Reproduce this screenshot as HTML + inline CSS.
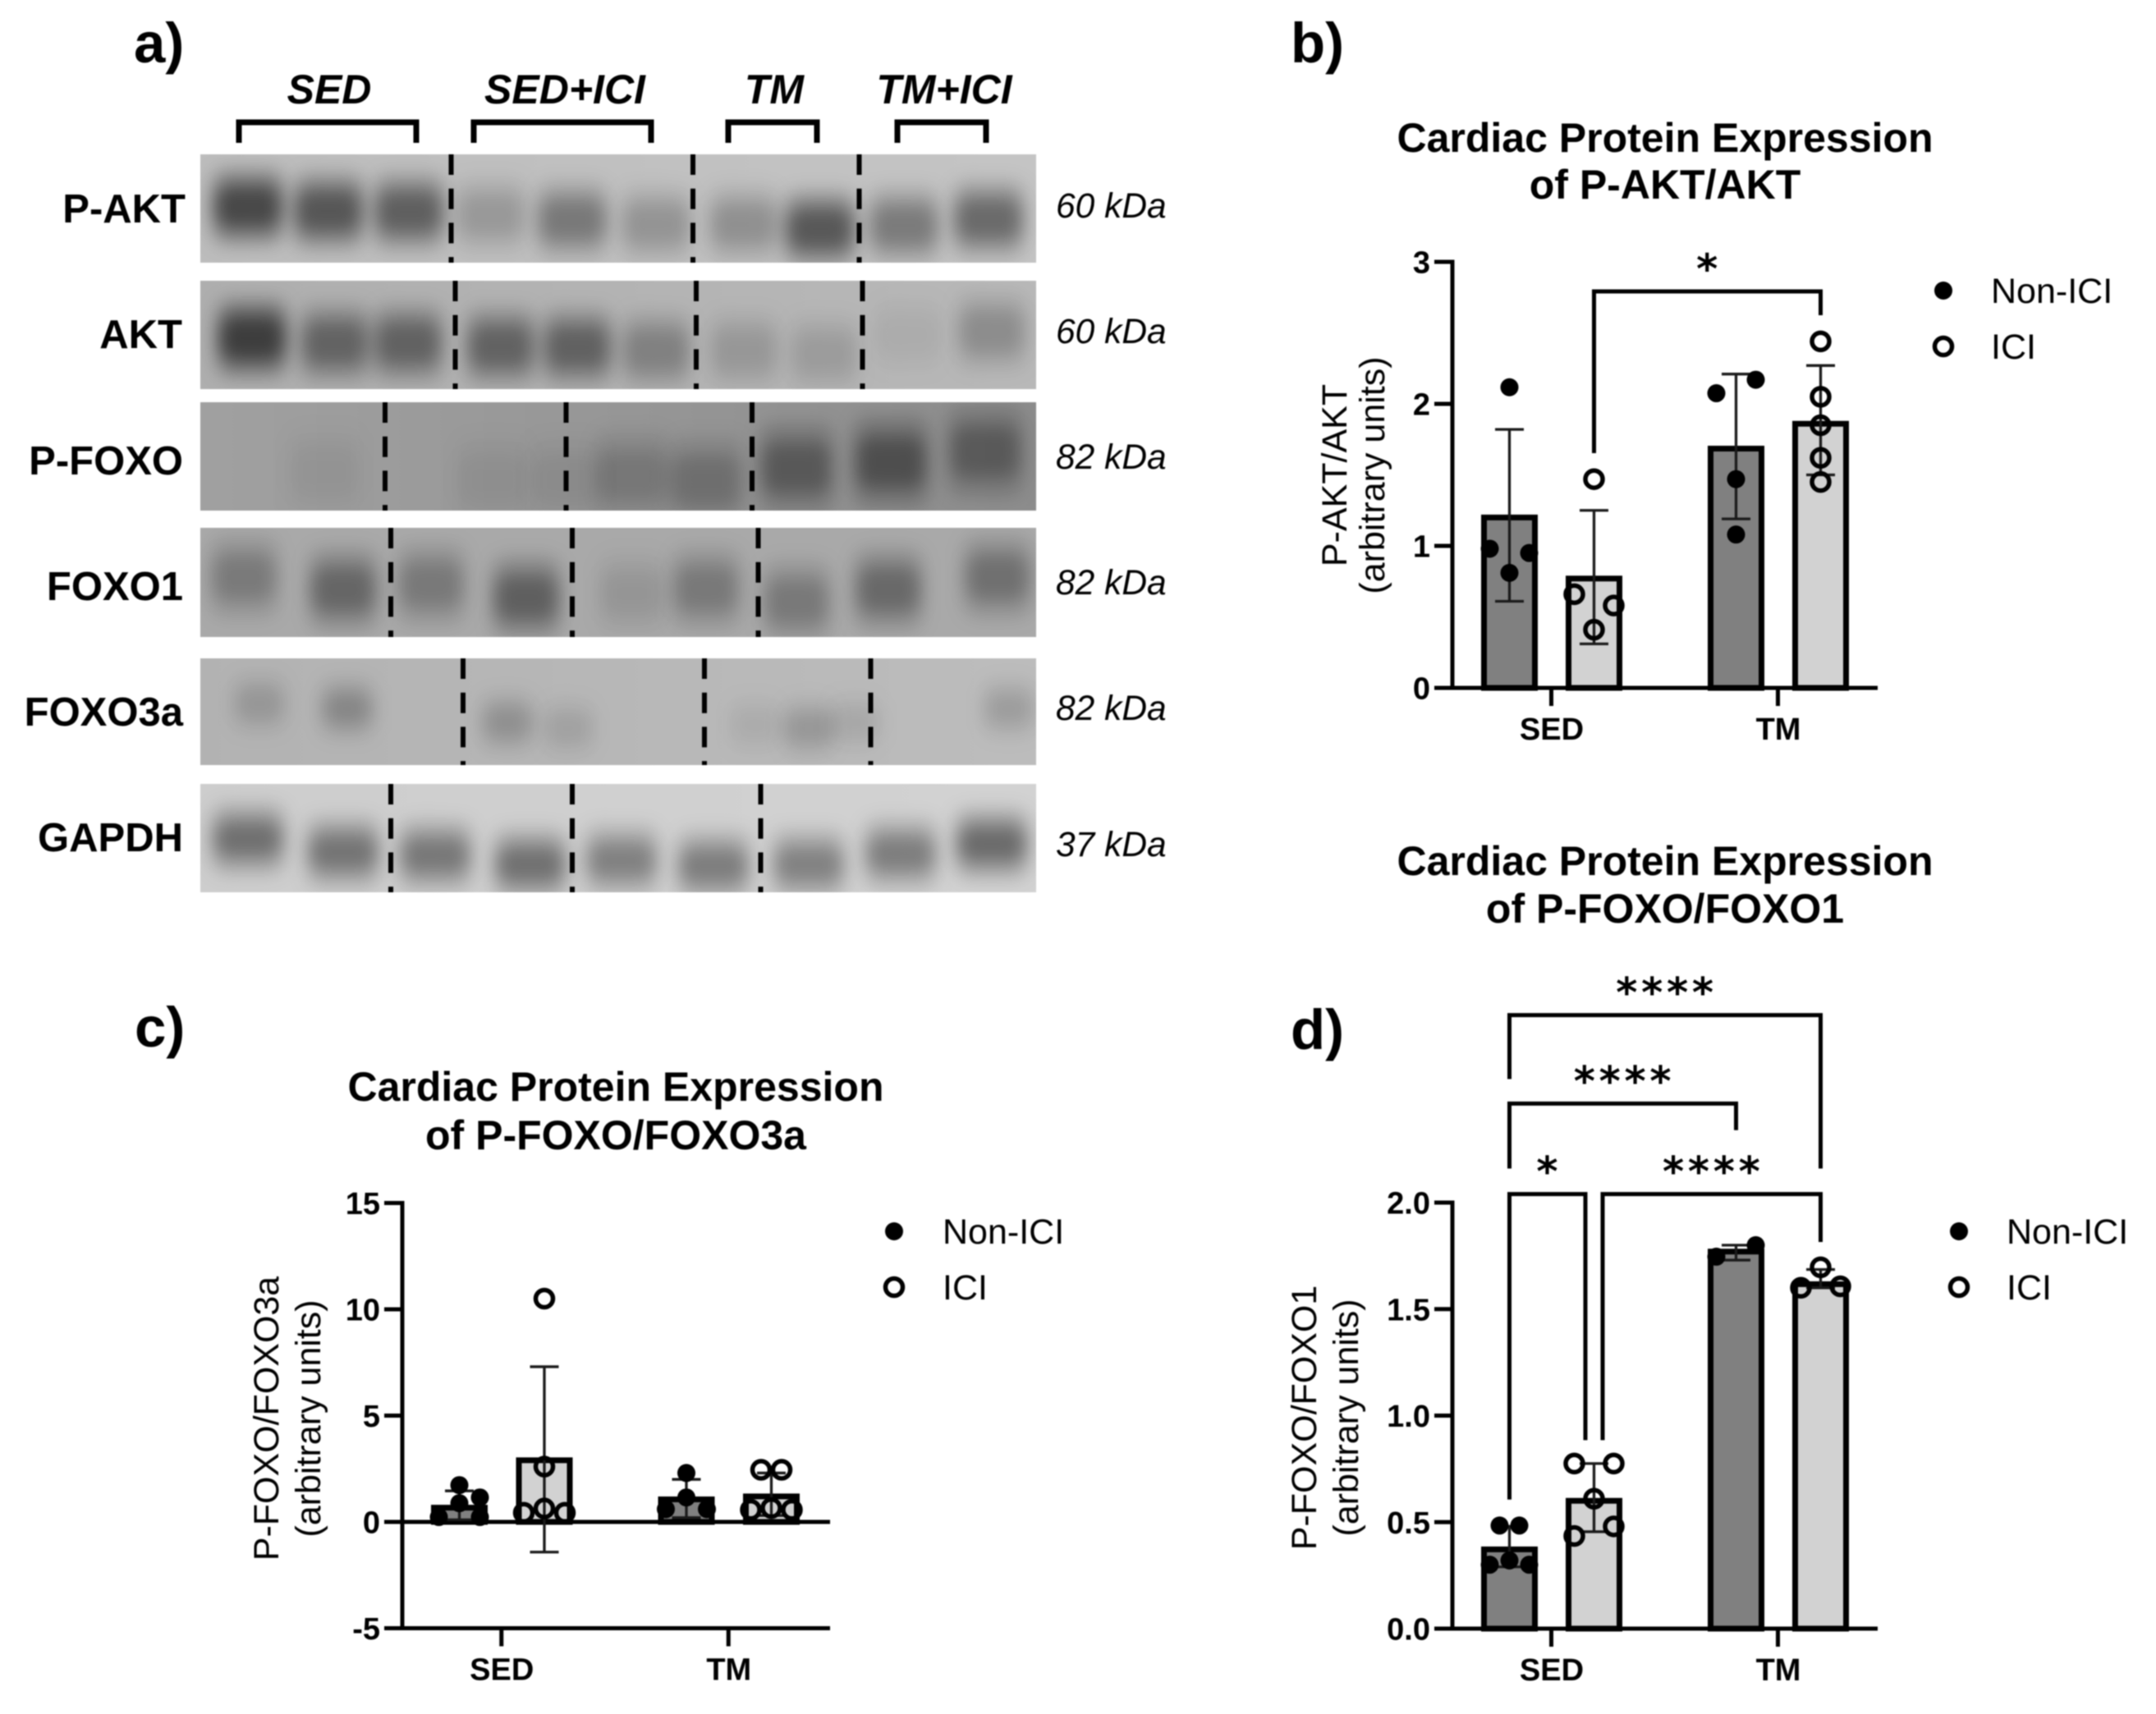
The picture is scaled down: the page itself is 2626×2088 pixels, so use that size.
<!DOCTYPE html>
<html lang="en">
<head>
<meta charset="utf-8">
<title>Cardiac protein expression figure</title>
<style>
html,body{margin:0;padding:0;background:#fff;width:2626px;height:2088px;overflow:hidden}
svg{display:block;filter:blur(.7px)}
text{font-family:"Liberation Sans",Arial,sans-serif;fill:#000}
.panel{font-size:69px;font-weight:700}
.title{font-size:50px;font-weight:700;text-anchor:middle}
.ylab{font-size:43px;text-anchor:middle}
.legend{font-size:43px}
.rowlab{font-size:49px;font-weight:700;text-anchor:end}
.kda{font-size:42.5px;font-style:italic}
.group{font-size:50px;font-weight:700;font-style:italic;text-anchor:middle}
</style>
</head>
<body>
<svg id="fig" xmlns="http://www.w3.org/2000/svg" width="2626" height="2088" viewBox="0 0 2626 2088">
  <rect width="2626" height="2088" fill="#fff"/>
  <defs>
    <filter id="bandBlur" x="-60%" y="-60%" width="220%" height="220%"><feGaussianBlur stdDeviation="11"/></filter>
  </defs>

  <text class="panel" x="163" y="76">a)</text>
  <text class="panel" x="1572" y="76">b)</text>
  <text class="panel" x="164" y="1275">c)</text>
  <text class="panel" x="1572" y="1278">d)</text>

  <g id="blots"></g>
  <text class="group" x="401" y="126">SED</text>
  <text class="group" x="688" y="126">SED+ICI</text>
  <text class="group" x="943" y="126">TM</text>
  <text class="group" x="1150" y="126">TM+ICI</text>
  <path d="M291 174V149H507V174" fill="none" stroke="#000" stroke-width="7"/>
  <path d="M577 174V149H793V174" fill="none" stroke="#000" stroke-width="7"/>
  <path d="M887 174V149H995V174" fill="none" stroke="#000" stroke-width="7"/>
  <path d="M1093 174V149H1201V174" fill="none" stroke="#000" stroke-width="7"/>

  <text class="rowlab" x="226" y="271">P-AKT</text>
  <text class="rowlab" x="222" y="424">AKT</text>
  <text class="rowlab" x="223" y="578">P-FOXO</text>
  <text class="rowlab" x="223" y="731">FOXO1</text>
  <text class="rowlab" x="223" y="884">FOXO3a</text>
  <text class="rowlab" x="223" y="1037">GAPDH</text>
  <text class="kda" x="1286" y="265">60 kDa</text>
  <text class="kda" x="1286" y="418">60 kDa</text>
  <text class="kda" x="1286" y="571">82 kDa</text>
  <text class="kda" x="1286" y="724">82 kDa</text>
  <text class="kda" x="1286" y="877">82 kDa</text>
  <text class="kda" x="1286" y="1043">37 kDa</text>

  <text class="title" x="2028" y="185">Cardiac Protein Expression</text>
  <text class="title" x="2028" y="242">of P-AKT/AKT</text>
  <text class="ylab" transform="translate(1640 579) rotate(-90)">P-AKT/AKT</text>
  <text class="ylab" transform="translate(1686 579) rotate(-90)">(arbitrary units)</text>

  <text class="title" x="750" y="1341">Cardiac Protein Expression</text>
  <text class="title" x="750" y="1400">of P-FOXO/FOXO3a</text>
  <text class="ylab" transform="translate(339 1728) rotate(-90)">P-FOXO/FOXO3a</text>
  <text class="ylab" transform="translate(390 1728) rotate(-90)">(arbitrary units)</text>

  <text class="title" x="2028" y="1066">Cardiac Protein Expression</text>
  <text class="title" x="2028" y="1124">of P-FOXO/FOXO1</text>
  <text class="ylab" transform="translate(1603 1727) rotate(-90)">P-FOXO/FOXO1</text>
  <text class="ylab" transform="translate(1654 1727) rotate(-90)">(arbitrary units)</text>

  <g id="chart-b"></g>
  <g id="chart-c"></g>
  <g id="chart-d"></g>
</svg>

<script>
// ---------- chart data ----------
const categories = ['SED', 'TM'];
const legendNames = ['Non-ICI', 'ICI'];

const ticksB = [0, 1, 2, 3];
const tickLabelsB = ['0', '1', '2', '3'];
const meansB = [1.2, 0.77, 1.685, 1.86];
const errLowB = [0.61, 0.31, 1.19, 1.5];
const errHighB = [1.82, 1.25, 2.21, 2.27];
const pointsB = [[2.117, 0.98, 0.95, 0.81], [1.47, 0.66, 0.58, 0.41], [2.075, 2.17, 1.47, 1.08], [2.44, 2.05, 1.85, 1.62, 1.45]];
const swarmSlotsB = [[0, -1, 1, 0], [0, -1, 1, 0], [-1, 1, 0, 0], [0, 0, 0, 0, 0]];
const bracketLabelsB = ['*'];
const bracketSpansB = [[1, 3]];
const bracketTopsB = [2.792];
const bracketStartsB = [1.653];
const bracketEndsB = [2.624];

const ticksC = [-5, 0, 5, 10, 15];
const tickLabelsC = ['-5', '0', '5', '10', '15'];
const meansC = [0.67, 2.9, 1.06, 1.2];
const errLowC = [0.1, -1.42, 0.2, 0.3];
const errHighC = [1.46, 7.3, 2.0, 2.3];
const pointsC = [[1.73, 0.88, 1.15, 0.23, 0.23], [10.5, 2.6, 0.63, 0.43, 0.43], [2.3, 1.15, 0.6, 0.6], [2.45, 2.45, 0.65, 0.57, 0.57]];
const swarmSlotsC = [[0, 0, 1, -1, 1], [0, 0, 0, -1, 1], [0, 0, -1, 1], [-0.5, 0.5, 0, -1, 1]];

const ticksD = [0, 0.5, 1, 1.5, 2];
const tickLabelsD = ['0.0', '0.5', '1.0', '1.5', '2.0'];
const meansD = [0.372, 0.6, 1.77, 1.617];
const errLowD = [0.29, 0.455, 1.73, 1.6];
const errHighD = [0.48, 0.775, 1.8, 1.686];
const pointsD = [[0.484, 0.484, 0.3, 0.32, 0.3], [0.775, 0.775, 0.61, 0.435, 0.48], [1.746, 1.8], [1.696, 1.6, 1.607]];
const swarmSlotsD = [[-0.5, 0.5, -1, 0, 1], [-1, 1, 0, -1, 1], [-1, 1], [0, -1, 1]];
const bracketLabelsD = ['****', '****', '*', '****'];
const bracketSpansD = [[0, 3], [0, 2], [0, 1], [1, 3]];
const bracketTopsD = [2.88, 2.465, 2.04, 2.04];
const bracketStartsD = [2.58, 2.16, 0.606, 0.885];
const bracketEndsD = [2.16, 2.34, 0.885, 1.815];
const bracketShiftFromD = [0, 0, 0, 10.5];
const bracketShiftToD = [0, 0, -10.5, 0];

const NS = 'http://www.w3.org/2000/svg';
function make(parent, tag, attrs, content) {
  const el = document.createElementNS(NS, tag);
  for (const k in attrs) el.setAttribute(k, attrs[k]);
  if (content !== undefined) el.textContent = content;
  parent.appendChild(el);
  return el;
}

function drawChart(root, g, d) {
  const yScale = v => g.yZero - v * g.yPerUnit;
  const xBar = i => g.groupX[i >> 1] + (i % 2 ? g.barOffset : -g.barOffset);
  const yAxisTop = yScale(d.ticks[d.ticks.length - 1]);
  const yAxisBottom = yScale(d.ticks[0]);

  // bars
  d.means.forEach((m, i) => {
    const bar = make(root, 'rect', {x: xBar(i) - 31, y: Math.min(yScale(m), yScale(0)), width: 62, height: Math.abs(yScale(0) - yScale(m)), fill: i % 2 ? '#d2d2d2' : '#808080', stroke: '#000', 'stroke-width': 7});
    
    
  });

  // axes
  const yAxis = make(root, 'line', {x1: g.axisX, x2: g.axisX, y1: yAxisTop - 2.5, y2: yAxisBottom + 2.5, stroke: '#000', 'stroke-width': 5});
  
  
  const xAxis = make(root, 'line', {x1: g.axisX - 22, x2: g.axisEnd, y1: yAxisBottom, y2: yAxisBottom, stroke: '#000', 'stroke-width': 5});
  
  
  if (d.ticks[0] < 0) {
    const zero = make(root, 'line', {x1: g.axisX - 22, x2: g.axisEnd, y1: yScale(0), y2: yScale(0), stroke: '#000', 'stroke-width': 5});
    
    
  }
  d.ticks.forEach((t, i) => {
    const tick = make(root, 'line', {x1: g.axisX - 22, x2: g.axisX, y1: yScale(t), y2: yScale(t), stroke: '#000', 'stroke-width': 5});
    
    
    const lab = make(root, 'text', {x: g.axisX - 27, y: yScale(t) + 13.5, 'text-anchor': 'end', 'font-size': 38, 'font-weight': 700}, d.tickLabels[i]);
    
    
  });
  categories.forEach((c, i) => {
    const tick = make(root, 'line', {x1: g.groupX[i] - 0.5, x2: g.groupX[i] - 0.5, y1: yAxisBottom, y2: yAxisBottom + 22, stroke: '#000', 'stroke-width': 5});
    
    
    const lab = make(root, 'text', {x: g.groupX[i], y: yAxisBottom + 63, 'text-anchor': 'middle', 'font-size': 38, 'font-weight': 700}, c);
    
    
  });

  // error bars
  d.means.forEach((m, i) => {
    const x = xBar(i);
    const err = make(root, 'path', {d: 'M' + (x - 17.5) + ' ' + yScale(d.errHigh[i]) + 'H' + (x + 17.5) + 'M' + x + ' ' + yScale(d.errHigh[i]) + 'V' + yScale(d.errLow[i]) + 'M' + (x - 17.5) + ' ' + yScale(d.errLow[i]) + 'H' + (x + 17.5), fill: 'none', stroke: '#1a1a1a', 'stroke-width': 3.3});
    
    
  });

  // points
  d.points.forEach((series, i) => {
    series.forEach((v, j) => {
      const hollow = i % 2 === 1;
      const pt = make(root, 'circle', {cx: xBar(i) + d.slots[i][j] * g.slotWidth, cy: yScale(v), r: hollow ? 10.5 : 11, fill: hollow ? 'none' : '#000', stroke: hollow ? '#000' : 'none', 'stroke-width': hollow ? 5.5 : 0});
      
      
    });
  });

  // significance brackets
  (d.bracketLabels || []).forEach((label, i) => {
    const x1 = xBar(d.bracketSpans[i][0]) + (d.shiftFrom ? d.shiftFrom[i] : 0);
    const x2 = xBar(d.bracketSpans[i][1]) + (d.shiftTo ? d.shiftTo[i] : 0);
    const top = yScale(d.bracketTops[i]);
    const br = make(root, 'path', {d: 'M' + x1 + ' ' + yScale(d.bracketStarts[i]) + 'V' + top + 'H' + x2 + 'V' + yScale(d.bracketEnds[i]), fill: 'none', stroke: '#000', 'stroke-width': 5});
    
    
    const star = make(root, 'text', {x: (x1 + x2) / 2 + 2, y: top - 10, 'text-anchor': 'middle', 'font-size': 50, 'font-weight': 700, 'letter-spacing': 4.7, style: 'font-family:"DejaVu Sans",sans-serif'}, label);
    
    
  });

  // legend
  legendNames.forEach((name, i) => {
    const cy = g.legendY + i * g.legendGap;
    const hollow = i === 1;
    const mk = make(root, 'circle', {cx: g.legendX, cy: cy, r: hollow ? 10.5 : 11, fill: hollow ? '#fff' : '#000', stroke: hollow ? '#000' : 'none', 'stroke-width': hollow ? 5.5 : 0});
    
    
    const txt = make(root, 'text', {x: g.legendTextX, y: cy + 15, class: 'legend'}, name);
    
    
  });
}

drawChart(document.getElementById('chart-b'),
  {yZero: 838, yPerUnit: 173, axisX: 1769, axisEnd: 2287, groupX: [1890, 2166], barOffset: 51.5, slotWidth: 24, legendX: 2367, legendY: 354, legendGap: 68, legendTextX: 2425},
  {ticks: ticksB, tickLabels: tickLabelsB, means: meansB, errLow: errLowB, errHigh: errHighB, points: pointsB, slots: swarmSlotsB, bracketLabels: bracketLabelsB, bracketSpans: bracketSpansB, bracketTops: bracketTopsB, bracketStarts: bracketStartsB, bracketEnds: bracketEndsB});

drawChart(document.getElementById('chart-c'),
  {yZero: 1854, yPerUnit: 25.9, axisX: 490, axisEnd: 1011, groupX: [611.25, 887.75], barOffset: 51.75, slotWidth: 25, legendX: 1089, legendY: 1500, legendGap: 68, legendTextX: 1148},
  {ticks: ticksC, tickLabels: tickLabelsC, means: meansC, errLow: errLowC, errHigh: errHighC, points: pointsC, slots: swarmSlotsC});

drawChart(document.getElementById('chart-d'),
  {yZero: 1984, yPerUnit: 259.5, axisX: 1769, axisEnd: 2287, groupX: [1890, 2166], barOffset: 51.5, slotWidth: 24, legendX: 2386, legendY: 1500, legendGap: 68, legendTextX: 2444},
  {ticks: ticksD, tickLabels: tickLabelsD, means: meansD, errLow: errLowD, errHigh: errHighD, points: pointsD, slots: swarmSlotsD, bracketLabels: bracketLabelsD, bracketSpans: bracketSpansD, bracketTops: bracketTopsD, bracketStarts: bracketStartsD, bracketEnds: bracketEndsD, shiftFrom: bracketShiftFromD, shiftTo: bracketShiftToD});

// ---------- western blot strips (image-like illustration) ----------
const blotRows = [
  {name: 'p-akt', y: 188, h: 132, bg: ['#bcbcbc', '#c4c4c4'], dash: [549.5, 844, 1046.5], w: 80, core: 52, halo: 92,
   bands: [[302,252,.61],[400,257,.52],[498,258,.47],[598,262,.17],[697,268,.33],[799,273,.2],[906,273,.22],[999,279,.52],[1101,275,.33],[1204,267,.42]]},
  {name: 'akt', y: 342, h: 132, bg: ['#aeaeae', '#b8b8b8'], dash: [554.5, 848, 1050.5], w: 78, core: 54, halo: 94,
   bands: [[307,412,.65],[408,418,.4],[497,418,.41],[610,422,.41],[703,423,.42],[799,427,.25],[906,427,.14],[1004,431,.12],[1106,408,.05],[1208,404,.2]]},
  {name: 'p-foxo', y: 490, h: 132, bg: ['#a0a0a0', '#8c8c8c'], dash: [469, 689.5, 916], w: 84, core: 62, halo: 110,
   bands: [[395,575,.05],[600,585,.06],[690,585,.07],[770,580,.18],[860,586,.22],[970,570,.36],[1085,563,.42],[1200,550,.33]]},
  {name: 'foxo1', y: 643, h: 133, bg: ['#a9a9a9', '#a9a9a9'], dash: [476, 697, 923.5], w: 76, core: 56, halo: 100,
   bands: [[297,703,.24],[418,718,.36],[525,712,.25],[641,728,.4],[770,723,.1],[860,717,.25],[970,733,.25],[1082,718,.34],[1215,703,.3]]},
  {name: 'foxo3a', y: 802, h: 130, bg: ['#b2b2b2', '#bcbcbc'], dash: [564, 858, 1060.5], w: 58, core: 38, halo: 72,
   bands: [[316,857,.14],[423,863,.22],[618,880,.18],[692,887,.1],[920,883,.06],[985,887,.16],[1041,880,.08],[1229,863,.14]]},
  {name: 'gapdh', y: 955, h: 132, bg: ['#cdcdcd', '#d2d2d2'], dash: [476, 697, 926.5], w: 82, core: 44, halo: 84,
   bands: [[302,1022,.42],[418,1038,.4],[530,1042,.38],[646,1053,.42],[757,1048,.34],[869,1055,.36],[985,1053,.34],[1097,1040,.36],[1208,1028,.46]]}
];
const blotsRoot = document.getElementById('blots');
const blotDefs = document.querySelector('#fig defs');
blotRows.forEach(row => {
  const grad = make(blotDefs, 'linearGradient', {id: 'grad-' + row.name});
  make(grad, 'stop', {offset: '0', 'stop-color': row.bg[0]});
  make(grad, 'stop', {offset: '1', 'stop-color': row.bg[1]});
  const clip = make(blotDefs, 'clipPath', {id: 'clip-' + row.name});
  make(clip, 'rect', {x: 244, y: row.y, width: 1018, height: row.h});
  const strip = make(blotsRoot, 'g', {'clip-path': 'url(#clip-' + row.name + ')'});
  
  
  make(strip, 'rect', {x: 244, y: row.y, width: 1018, height: row.h, fill: 'url(#grad-' + row.name + ')'});
  row.bands.forEach(b => {
    const halo = make(strip, 'rect', {x: b[0] - row.w / 2 - 4, y: b[1] - row.halo / 2, width: row.w + 8, height: row.halo, rx: 18, fill: '#000', 'fill-opacity': b[2] * 0.45, filter: 'url(#bandBlur)'});
    
    
    const band = make(strip, 'rect', {x: b[0] - row.w / 2, y: b[1] - row.core / 2, width: row.w, height: row.core, rx: 18, fill: '#000', 'fill-opacity': b[2] * 0.78, filter: 'url(#bandBlur)'});
    
    
  });
  row.dash.forEach(x => {
    const dash = make(blotsRoot, 'line', {x1: x, x2: x, y1: row.y, y2: row.y + row.h, stroke: '#000', 'stroke-width': 6, 'stroke-dasharray': '25 16.7'});
    
    
  });
});
</script>
</body>
</html>
